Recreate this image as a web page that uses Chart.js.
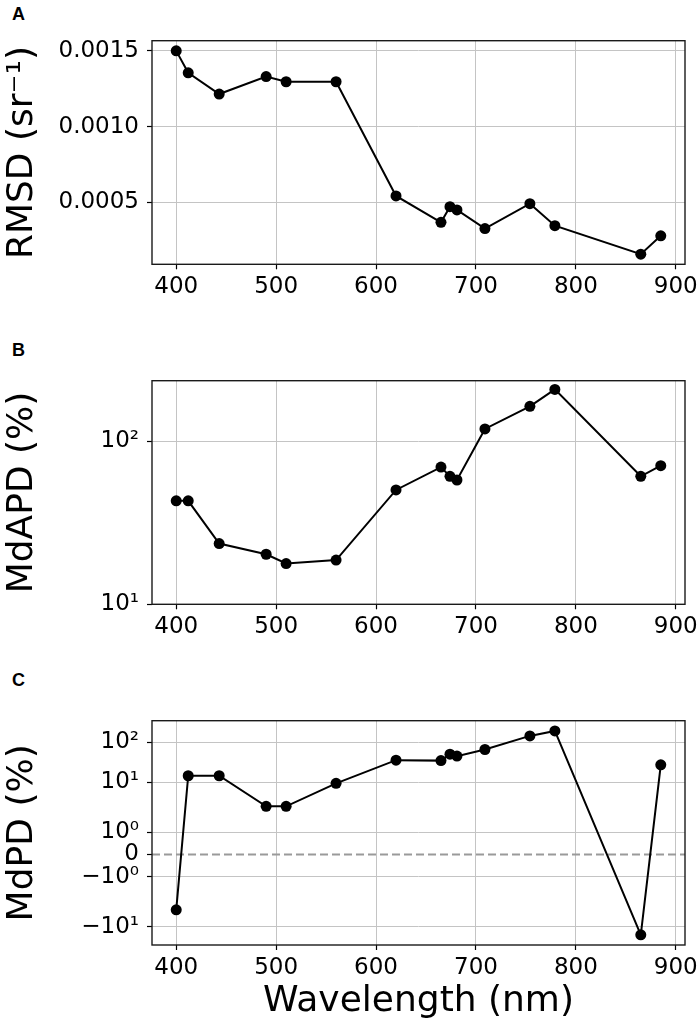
<!DOCTYPE html>
<html>
<head>
<meta charset="utf-8">
<script src="https://cdn.jsdelivr.net/npm/chart.js@4/dist/chart.umd.min.js"></script>
<style>
  body { margin: 0; background: #fff; width: 699px; height: 1027px; position: relative; overflow: hidden; }
  canvas { position: absolute; left: 0; }
  .tag { position: absolute; left: 12px; font: bold 18px/1 "Liberation Sans", Arial, sans-serif; color: #000; }
</style>
</head>
<body>
<div class="tag" style="top:4.6px">A</div>
<canvas id="rmsd" width="699" height="300" style="top:0"></canvas>
<div class="tag" style="top:340.6px">B</div>
<canvas id="mdapd" width="699" height="340" style="top:300px"></canvas>
<div class="tag" style="top:670.6px">C</div>
<canvas id="mdpd" width="699" height="387" style="top:640px"></canvas>
<script>
/**
 * Data
 */
const wavelengths = [400, 412, 443, 490, 510, 560, 620, 665, 674, 681, 709, 754, 779, 865, 885];
const rmsd = [0.0015, 0.001355, 0.001215, 0.00133, 0.001296, 0.001296, 0.000542, 0.000368, 0.000471, 0.00045, 0.000327, 0.000491, 0.000346, 0.000158, 0.000279];
const mdapd = [43.2, 43.2, 23.6, 20.3, 17.8, 18.7, 50.4, 69.6, 61.1, 58.0, 119.5, 164.4, 208.9, 61.1, 71.0];
const mdpd = [-3.8, 14.6, 14.6, 2.5, 2.5, 9.4, 36, 35, 50.9, 45.4, 66.5, 146, 195, -16.1, 27.5];

const xTicks = [400, 500, 600, 700, 800, 900];
const rmsdTicks = [0.0005, 0.001, 0.0015];
const mdapdTicks = [10, 100];
const mdapdTickLabels = ['10¹', '10²'];
const mdpdTicks = [-10, -1, 0, 1, 10, 100];
const mdpdTickLabels = ['−10¹', '−10⁰', '0', '10⁰', '10¹', '10²'];

/**
 * Style
 */
const tickFont = { family: 'DejaVu Sans', size: 23 };
const titleFont = { family: 'DejaVu Sans', size: 36 };
const gridColor = '#c4c4c4';

/**
 * Symmetric log scale (linthresh 2, linscale 1)
 */
const LINTHRESH = 2;
const LINSCALE = 1 / (1 - 1 / 10);

function symlog(v) {
  const a = Math.abs(v);
  if (a <= LINTHRESH) return v * LINSCALE;
  return Math.sign(v) * LINTHRESH * (LINSCALE + Math.log10(a / LINTHRESH));
}

function symexp(t) {
  const a = Math.abs(t);
  if (a <= LINTHRESH * LINSCALE) return t / LINSCALE;
  return Math.sign(t) * LINTHRESH * Math.pow(10, a / LINTHRESH - LINSCALE);
}

class SymlogScale extends Chart.LinearScale {
  configure() {
    super.configure();
    this._tStart = symlog(this.min);
    this._tRange = symlog(this.max) - this._tStart;
  }
  getPixelForValue(value) {
    return this.getPixelForDecimal((symlog(value) - this._tStart) / this._tRange);
  }
  getValueForPixel(pixel) {
    return symexp(this._tStart + this.getDecimalForPixel(pixel) * this._tRange);
  }
}
SymlogScale.id = 'symlog';
SymlogScale.defaults = Chart.LinearScale.defaults;
Chart.register(SymlogScale);

// 5% margins like matplotlib autoscaling
function padded(lo, hi) {
  const d = (hi - lo) * 0.05;
  return [lo - d, hi + d];
}

const xRange = padded(Math.min(...wavelengths), Math.max(...wavelengths));
const rmsdRange = padded(Math.min(...rmsd), Math.max(...rmsd));
const mdapdMax = Math.pow(10, padded(Math.log10(Math.min(...mdapd)), Math.log10(Math.max(...mdapd)))[1]);
const mdpdRange = padded(symlog(Math.min(...mdpd)), symlog(Math.max(...mdpd))).map(symexp);

/**
 * Plugins
 */
const frame = {
  id: 'frame',
  afterDraw(chart) {
    const { ctx, chartArea: a } = chart;
    ctx.save();
    ctx.strokeStyle = '#1a1a1a';
    ctx.lineWidth = 1.4;
    ctx.strokeRect(a.left, a.top, a.right - a.left, a.bottom - a.top);
    ctx.restore();
  },
};

const zeroLine = {
  id: 'zeroLine',
  beforeDatasetsDraw(chart) {
    const { ctx, chartArea: a, scales } = chart;
    const py = scales.y.getPixelForValue(0);
    ctx.save();
    ctx.strokeStyle = '#9a9a9a';
    ctx.lineWidth = 2;
    ctx.setLineDash([8, 4]);
    ctx.beginPath();
    ctx.moveTo(a.left, py);
    ctx.lineTo(a.right, py);
    ctx.stroke();
    ctx.restore();
  },
};

/**
 * Axes
 */
function xAxis(height, showTitle) {
  return {
    type: 'linear',
    min: xRange[0],
    max: xRange[1],
    bounds: 'data',
    afterBuildTicks: (scale) => { scale.ticks = xTicks.map((v) => ({ value: v })); },
    afterFit: (scale) => {
      scale.height = height;
      scale.paddingLeft = 0;
      scale.paddingRight = 0;
    },
    ticks: { font: tickFont, color: '#000', padding: 4, maxRotation: 0, autoSkip: false, callback: (v) => String(v) },
    grid: { color: gridColor, lineWidth: 1, tickColor: '#000', tickLength: 5, tickWidth: 1.2 },
    border: { display: false },
    title: { display: showTitle, text: 'Wavelength (nm)', font: titleFont, color: '#000', padding: 4 },
  };
}

function yAxis(extra) {
  return {
    bounds: 'data',
    afterFit: (scale) => {
      scale.width = 152;
      scale.paddingTop = 0;
      scale.paddingBottom = 0;
    },
    ticks: { font: tickFont, color: '#000', padding: 8, autoSkip: false },
    grid: { color: gridColor, lineWidth: 1, tickColor: '#000', tickLength: 5, tickWidth: 1.2 },
    border: { display: false },
    ...extra,
    title: { display: true, font: titleFont, color: '#000', padding: { top: 1, bottom: 0 }, ...extra.title },
  };
}

/**
 * Chart
 */
function createPanel({ selector, values, y, padTop, xHeight, xTitle, plugins }) {
  const ctx = document.getElementById(selector).getContext('2d');
  return new Chart(ctx, {
    type: 'line',
    data: {
      datasets: [
        {
          data: wavelengths.map((x, i) => ({ x: x, y: values[i] })),
          borderColor: '#000',
          backgroundColor: '#000',
          borderWidth: 2,
          pointRadius: 5.5,
          pointHoverRadius: 5.5,
          pointBorderWidth: 0,
          tension: 0,
          clip: false,
        },
      ],
    },
    options: {
      responsive: false,
      animation: false,
      layout: { padding: { top: padTop, right: 14, bottom: 0, left: 0 } },
      plugins: { legend: { display: false }, tooltip: { enabled: false } },
      scales: { x: xAxis(xHeight, xTitle), y: y },
    },
    plugins: [frame].concat(plugins || []),
  });
}

createPanel({
  selector: 'rmsd',
  values: rmsd,
  padTop: 40.7,
  xHeight: 35.7,
  xTitle: false,
  y: yAxis({
    type: 'linear',
    min: rmsdRange[0],
    max: rmsdRange[1],
    afterBuildTicks: (scale) => { scale.ticks = rmsdTicks.map((v) => ({ value: v })); },
    ticks: { font: tickFont, color: '#000', padding: 8, callback: (v) => v.toFixed(4) },
    title: { text: 'RMSD (sr⁻¹)' },
  }),
});

createPanel({
  selector: 'mdapd',
  values: mdapd,
  padTop: 80.7,
  xHeight: 35.7,
  xTitle: false,
  y: yAxis({
    type: 'logarithmic',
    min: 10,
    max: mdapdMax,
    afterBuildTicks: (scale) => { scale.ticks = mdapdTicks.map((v) => ({ value: v })); },
    ticks: { font: tickFont, color: '#000', padding: 8, callback: (v, i) => mdapdTickLabels[i] },
    title: { text: 'MdAPD (%)' },
  }),
});

createPanel({
  selector: 'mdpd',
  values: mdpd,
  padTop: 80.7,
  xHeight: 82,
  xTitle: true,
  plugins: [zeroLine],
  y: yAxis({
    type: 'symlog',
    min: mdpdRange[0],
    max: mdpdRange[1],
    afterBuildTicks: (scale) => { scale.ticks = mdpdTicks.map((v) => ({ value: v })); },
    ticks: { font: tickFont, color: '#000', padding: 8, callback: (v, i) => mdpdTickLabels[i] },
    grid: {
      color: (c) => (c.tick && c.tick.value === 0 ? 'rgba(0,0,0,0)' : gridColor),
      lineWidth: 1,
      tickColor: '#000',
      tickLength: 5,
      tickWidth: 1.2,
    },
    title: { text: 'MdPD (%)' },
  }),
});
</script>
</body>
</html>
